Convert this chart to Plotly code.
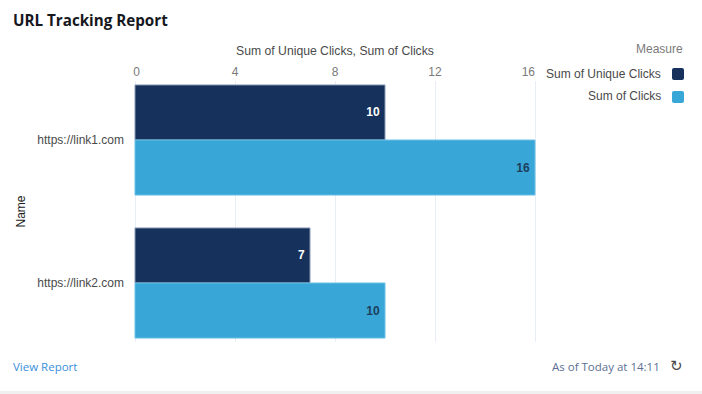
import plotly.graph_objects as go

categories = ["https://link1.com", "https://link2.com"]
unique_clicks = [10, 7]
clicks = [16, 10]
x_ticks = [0, 4, 8, 12, 16]
x_tick_labels = ["\u00a00", "4", "8", "12", "16\u00a0\u00a0\u00a0\u00a0"]
series_names = ["Sum of Unique Clicks", "Sum of Clicks"]
colors = ["#16325c", "#38a6d6"]

W, H = 702, 394
FONT = "Liberation Sans, Arial, sans-serif"
TITLE_FONT = "Open Sans, Noto Sans, sans-serif"


def px(x):
    return x / W


def py(y):
    return 1 - y / H


fig = go.Figure()
fig.add_trace(go.Bar(
    y=categories, x=unique_clicks, orientation="h", name=series_names[0],
    marker=dict(color=colors[0], line=dict(color="#8b9bb4", width=1)),
    text=unique_clicks, texttemplate="%{text}\u2009", textposition="inside", insidetextanchor="end",
    textangle=0,
    textfont=dict(color="#ffffff", size=12, family=FONT, weight="bold"),
))
fig.add_trace(go.Bar(
    y=categories, x=clicks, orientation="h", name=series_names[1],
    marker=dict(color=colors[1], line=dict(color="#6cc0e6", width=1)),
    text=clicks, texttemplate="%{text}\u2009", textposition="inside", insidetextanchor="end",
    textangle=0,
    textfont=dict(color="#1d3f5c", size=12, family=FONT, weight="bold"),
))

annotations = [
    dict(text="<b>URL Tracking Report</b>", x=px(11), y=py(20), xanchor="left", yanchor="middle",
         font=dict(family=TITLE_FONT, size=15.2, color="#16181d")),
    dict(text="Measure", x=px(685), y=py(49), xanchor="right", yanchor="middle",
         font=dict(family=FONT, size=12, color="#7a7a7a")),
    dict(text=series_names[0], x=px(663), y=py(74), xanchor="right", yanchor="middle",
         font=dict(family=FONT, size=12, color="#4a4a4a")),
    dict(text=series_names[1], x=px(663), y=py(96), xanchor="right", yanchor="middle",
         font=dict(family=FONT, size=12, color="#4a4a4a")),
    dict(text="View Report", x=px(11), y=py(366), xanchor="left", yanchor="middle",
         font=dict(family=TITLE_FONT, size=11.5, color="#3a8fdc")),
    dict(text="As of Today at 14:11", x=px(662), y=py(366), xanchor="right", yanchor="middle",
         font=dict(family=TITLE_FONT, size=11.5, color="#5c6f92")),
    dict(text="\u21bb", x=px(676), y=py(366), xanchor="center", yanchor="middle",
         font=dict(family="DejaVu Sans", size=15, color="#4a4a4a")),
]
for a in annotations:
    a.update(xref="paper", yref="paper", showarrow=False)


def swatch(x0, y0, x1, y1, color):
    r = 2
    p = (f"M {px(x0 + r)} {py(y0)} L {px(x1 - r)} {py(y0)} Q {px(x1)} {py(y0)} {px(x1)} {py(y0 + r)} "
         f"L {px(x1)} {py(y1 - r)} Q {px(x1)} {py(y1)} {px(x1 - r)} {py(y1)} "
         f"L {px(x0 + r)} {py(y1)} Q {px(x0)} {py(y1)} {px(x0)} {py(y1 - r)} "
         f"L {px(x0)} {py(y0 + r)} Q {px(x0)} {py(y0)} {px(x0 + r)} {py(y0)} Z")
    return dict(type="path", xref="paper", yref="paper", path=p, fillcolor=color,
                line=dict(width=0), layer="above")


shapes = [
    swatch(672, 68, 684, 80, colors[0]),
    swatch(672, 91, 684, 103, colors[1]),
    dict(type="rect", xref="paper", yref="paper", x0=0, x1=1, y0=0, y1=py(391),
         fillcolor="#f0f0f0", line=dict(width=0), layer="below"),
]

fig.update_layout(
    width=W, height=H, autosize=False,
    margin=dict(l=0, r=0, t=0, b=0, pad=0),
    paper_bgcolor="#ffffff", plot_bgcolor="#ffffff",
    barmode="group", bargap=0.23, bargroupgap=0,
    showlegend=False,
    font=dict(family=FONT, size=12, color="#4a4a4a"),
    annotations=annotations, shapes=shapes,
    xaxis=dict(
        domain=[px(133), px(537)], range=[-0.08, 16.08], side="top", automargin=False,
        tickvals=x_ticks, ticktext=x_tick_labels, ticks="", showline=False, zeroline=False,
        gridcolor="#e9eef6", gridwidth=1, ticklabelstandoff=2,
        tickfont=dict(size=12, color="#7a7a7a"),
        title=dict(text="Sum of Unique Clicks, Sum of Clicks", standoff=6,
                   font=dict(size=12.2, color="#4a4a4a")),
    ),
    yaxis=dict(
        domain=[py(342), py(81)], range=[1.4126, -0.4126], type="category", automargin=False,
        categoryorder="array", categoryarray=categories,
        ticks="", showline=False, showgrid=False, zeroline=False,
        ticklabelstandoff=8,
        tickfont=dict(size=12, color="#4a4a4a"),
        title=dict(text="Name", standoff=9, font=dict(size=12, color="#1a1a1a")),
    ),
)

fig.write_html("out.html", config=dict(displayModeBar=False),
               post_script="document.body.style.margin='0';")
